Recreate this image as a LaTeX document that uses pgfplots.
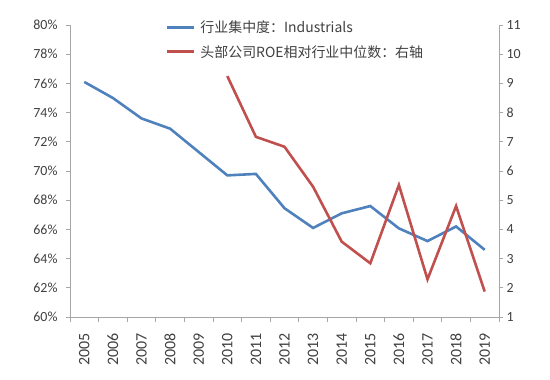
\documentclass[border=0pt]{standalone}
\usepackage{fontspec}
\setmainfont{Carlito}
\newfontfamily\cjk{Noto Sans CJK SC}
\usepackage{pgfplots}
\pgfplotsset{compat=1.18}
\definecolor{bl}{HTML}{4F81BD}
\definecolor{rd}{HTML}{C0504D}
\definecolor{ax}{HTML}{A6A6A6}
\definecolor{tx}{HTML}{404040}
\pgfplotsset{
  common/.style={
    at={(70bp,63bp)}, anchor=south west, scale only axis,
    width=429bp, height=292bp,
    xmin=2004.5, xmax=2019.5,
    tick align=outside, major tick length=4bp, minor tick length=5bp,
    every tick/.style={draw=ax, line width=0.8bp},
    axis line style={draw=ax, line width=0.8bp},
    tick label style={text=tx, font=\fontsize{14}{16}\selectfont},
    /pgf/number format/assume math mode=true,
  }
}
\begin{document}
\begin{tikzpicture}
\path[use as bounding box] (0,0) rectangle (550bp,380bp);
\begin{axis}[common,
  axis x line*=bottom, axis y line*=left,
  ymin=60, ymax=80,
  ytick={60,62,64,66,68,70,72,74,76,78,80},
  yticklabels={60\%,62\%,64\%,66\%,68\%,70\%,72\%,74\%,76\%,78\%,80\%},
  yticklabel style={xshift=-5bp},
  xtick={2005,2006,2007,2008,2009,2010,2011,2012,2013,2014,2015,2016,2017,2018,2019},
  xticklabels={2005,2006,2007,2008,2009,2010,2011,2012,2013,2014,2015,2016,2017,2018,2019},
  major x tick style={draw=none},
  minor xtick={2004.5,2005.5,...,2019.5},
  xticklabel style={rotate=90, anchor=east, xshift=-9bp, font=\fontsize{16}{18}\selectfont},
]
\addplot[bl, line width=2.6bp] coordinates {
(2005,76.1) (2006,75.0) (2007,73.6) (2008,72.9) (2009,71.3) (2010,69.7)
(2011,69.8) (2012,67.45) (2013,66.1) (2014,67.1) (2015,67.6) (2016,66.07)
(2017,65.2) (2018,66.2) (2019,64.6)};
\end{axis}
\begin{axis}[common,
  axis x line=none, axis y line*=right,
  ymin=1, ymax=11, ytick={1,2,...,11},
  legend style={at={(0.215,1.028)}, anchor=north west, draw=none, fill=none,
    font=\cjk\fontsize{14}{16}\selectfont, text=tx, row sep=7bp},
  legend cell align=left,
  legend image code/.code={\draw[#1, line width=3bp] (0bp,0bp) -- (27bp,0bp);},
]
\addlegendimage{bl, line width=2.6bp}
\addlegendentry{\hspace{3bp}行业集中度：Industrials}
\addplot[rd, line width=2.6bp] coordinates {
(2010,9.25) (2011,7.17) (2012,6.83) (2013,5.46) (2014,3.58) (2015,2.84)
(2016,5.52) (2017,2.29) (2018,4.8) (2019,1.87)};
\addlegendentry{\hspace{3bp}头部公司ROE相对行业中位数：右轴}
\end{axis}
\end{tikzpicture}
\end{document}
